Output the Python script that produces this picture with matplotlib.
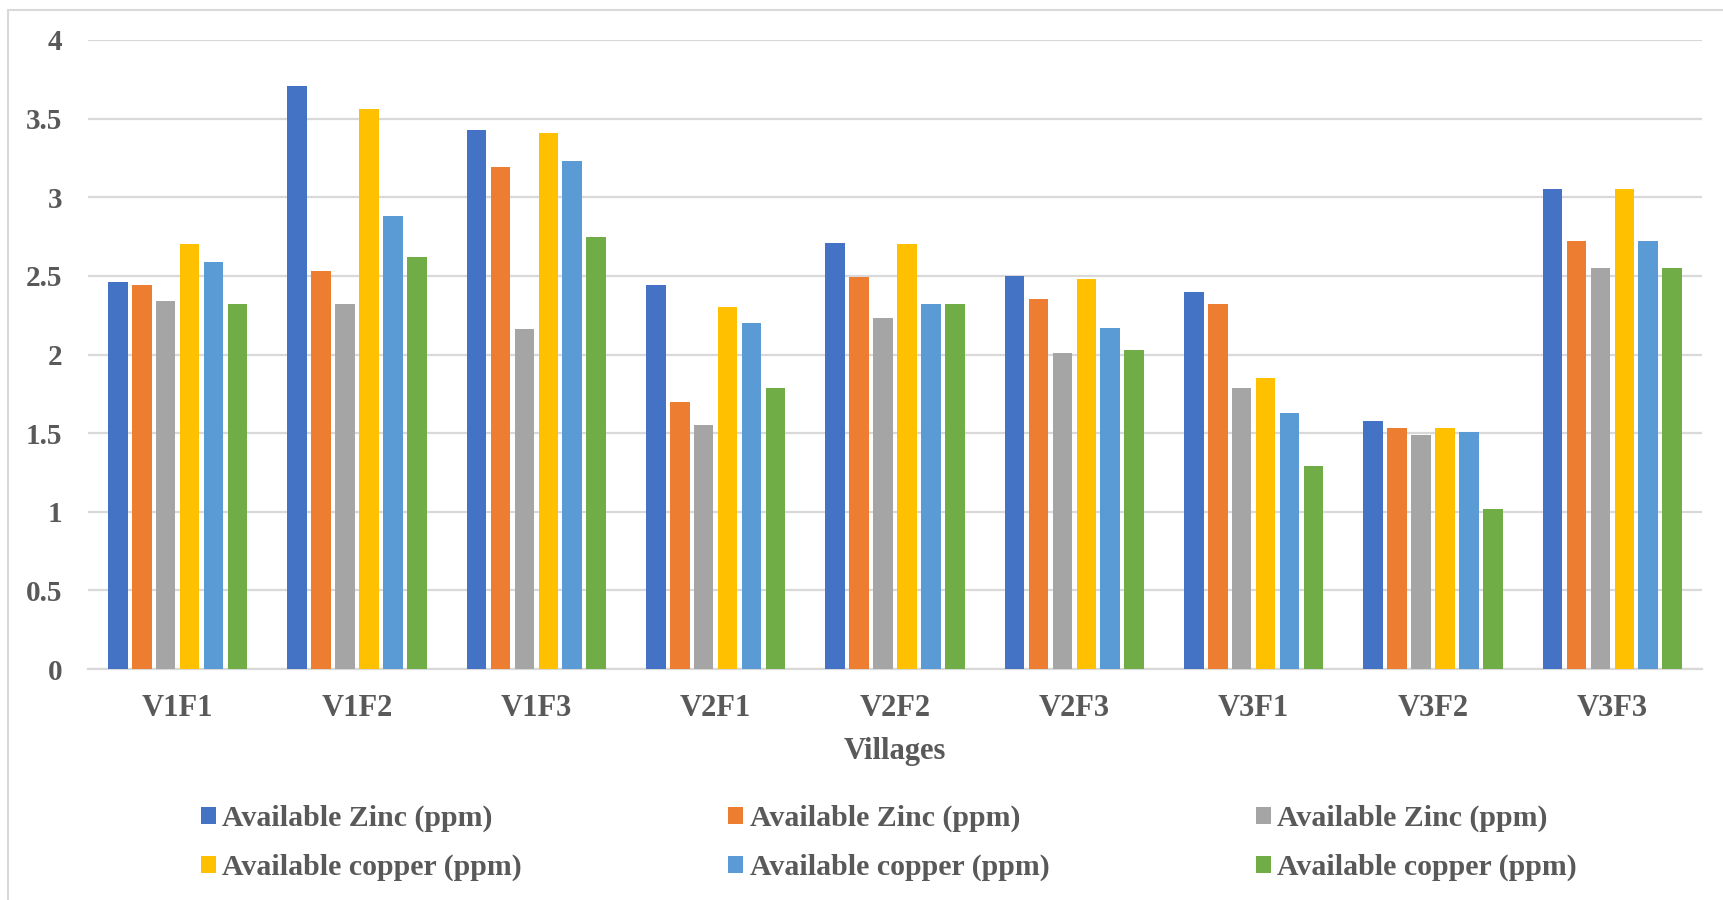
import numpy as np
import matplotlib
matplotlib.use("Agg")
import matplotlib.pyplot as plt
from matplotlib.patches import Rectangle

# data
villages = ["V1F1", "V1F2", "V1F3", "V2F1", "V2F2", "V2F3", "V3F1", "V3F2", "V3F3"]
zinc_1 = [2.46, 3.71, 3.43, 2.44, 2.71, 2.50, 2.40, 1.58, 3.05]
zinc_2 = [2.44, 2.53, 3.19, 1.70, 2.49, 2.35, 2.32, 1.53, 2.72]
zinc_3 = [2.34, 2.32, 2.16, 1.55, 2.23, 2.01, 1.79, 1.49, 2.55]
copper_1 = [2.70, 3.56, 3.41, 2.30, 2.70, 2.48, 1.85, 1.53, 3.05]
copper_2 = [2.59, 2.88, 3.23, 2.20, 2.32, 2.17, 1.63, 1.51, 2.72]
copper_3 = [2.32, 2.62, 2.75, 1.79, 2.32, 2.03, 1.29, 1.02, 2.55]
series_labels = ["Available Zinc (ppm)"] * 3 + ["Available copper (ppm)"] * 3
colors = ["#4472C4", "#ED7D31", "#A5A5A5", "#FFC000", "#5B9BD5", "#70AD47"]

text_col = "#595959"
grid_col = "#D9D9D9"
font = ["Liberation Serif", "DejaVu Serif"]
plt.rcParams["font.family"] = font
plt.rcParams["font.weight"] = "bold"

fig = plt.figure(figsize=(17.24, 9.0), dpi=100)
ax = fig.add_axes([88 / 1724, 1 - 669 / 900, (1702 - 88) / 1724, (669 - 40) / 900])

all_series = [zinc_1, zinc_2, zinc_3, copper_1, copper_2, copper_3]
x = np.arange(len(villages))
pitch = 0.1333
width = 0.109
handles = []
for i, vals in enumerate(all_series):
    offs = (i - 2.5) * pitch
    b = ax.bar(x + offs, vals, width, color=colors[i], label=series_labels[i], zorder=3)
    handles.append(b)

ax.set_xlim(-0.5, len(villages) - 0.5)
ax.set_ylim(0, 4)
ax.set_yticks(np.arange(0, 4.01, 0.5))
ax.set_yticklabels(["0", "0.5", "1", "1.5", "2", "2.5", "3", "3.5", "4"])
ax.set_xticks(x)
ax.set_xticklabels(villages)
ax.grid(axis="y", color=grid_col, linewidth=1.6, zorder=0)
for s in ["top", "right", "left"]:
    ax.spines[s].set_visible(False)
ax.spines["bottom"].set_color(grid_col)
ax.spines["bottom"].set_linewidth(1.6)
ax.tick_params(axis="both", length=0, colors=text_col)
ax.tick_params(axis="y", labelsize=21, pad=18.5)
ax.tick_params(axis="x", labelsize=22, pad=18)
for lab in ax.get_xticklabels() + ax.get_yticklabels():
    lab.set_fontweight("bold")
ax.set_xlabel("Villages", fontsize=22, fontweight="bold", color=text_col, labelpad=10)

# legend rows go across in the original, so reorder for column filling
order = [0, 3, 1, 4, 2, 5]
leg = fig.legend([handles[i] for i in order], [series_labels[i] for i in order],
                 ncol=3, loc="upper left", bbox_to_anchor=(201 / 1724, 1 - 805 / 900),
                 frameon=False, borderpad=0, borderaxespad=0,
                 handlelength=0.5, handleheight=0.5, handletextpad=0.22,
                 columnspacing=6.9, labelspacing=0.72,
                 prop={"family": font, "weight": "bold", "size": 21.5})
for t in leg.get_texts():
    t.set_color(text_col)

# chart area border (only top and left visible in the reference)
fig.add_artist(Rectangle((8 / 1724, -0.1), 1.2, 1 - 10 / 900 + 0.1, transform=fig.transFigure,
                         fill=False, edgecolor=grid_col, linewidth=1.5))

fig.savefig("out.png", dpi=100)
